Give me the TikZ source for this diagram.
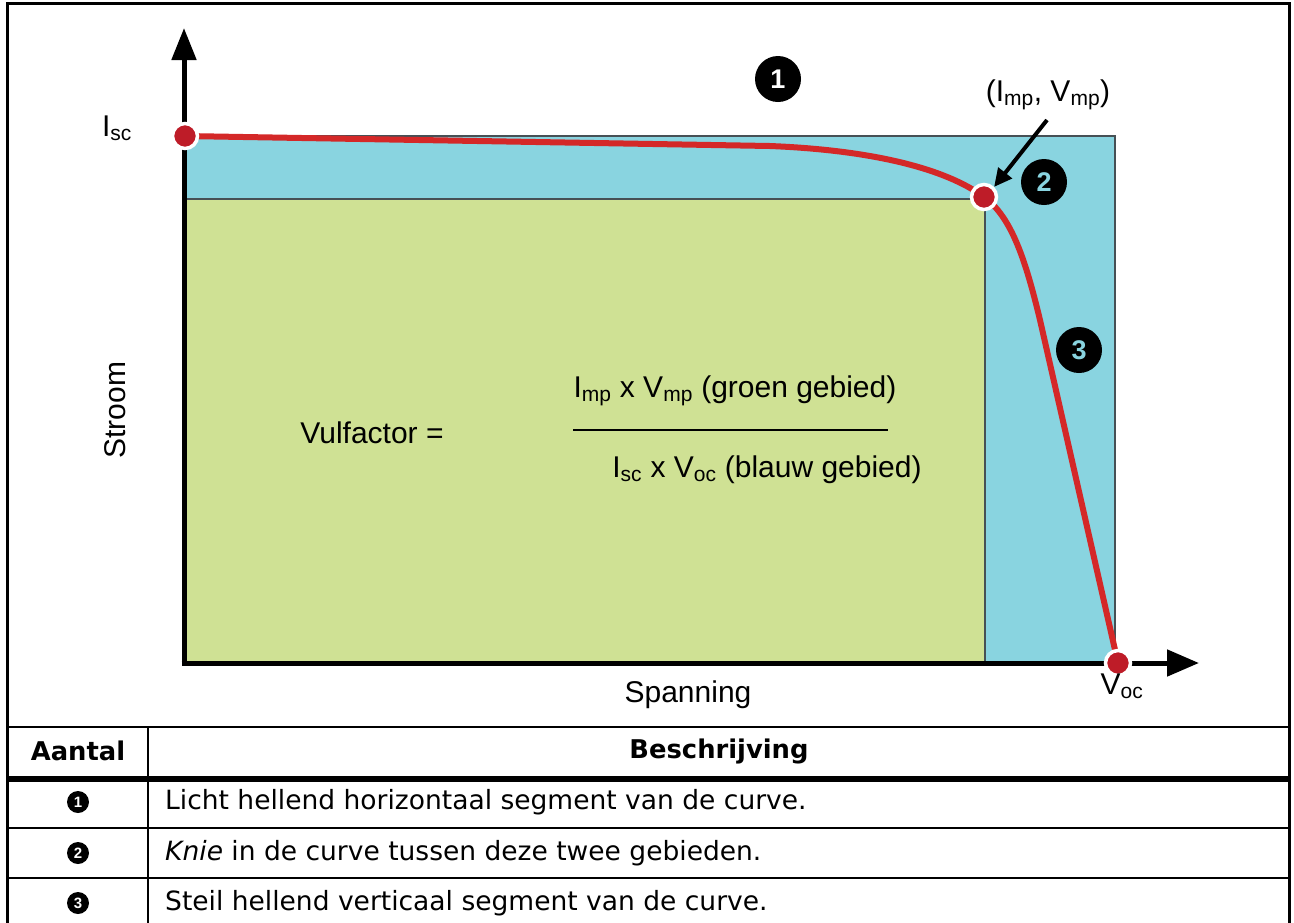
\documentclass[tikz,border=0pt]{standalone}
\usepackage{fontspec}
\setmainfont{Liberation Sans}
\newfontfamily\tabfont{DejaVu Sans}
\usetikzlibrary{arrows.meta}
\definecolor{cblue}{RGB}{137,212,224}
\definecolor{cgreen}{RGB}{207,225,148}
\definecolor{cred}{RGB}{212,40,40}
\definecolor{cdot}{RGB}{190,28,40}
\definecolor{cedge}{RGB}{70,80,85}
\begin{document}
\begin{tikzpicture}[x=1pt,y=-1pt,
  lbl/.style={inner sep=0pt, font=\fontsize{30}{34}\selectfont},
  tabtxt/.style={inner sep=0pt, font=\tabfont\fontsize{26.5}{30}\selectfont},
  tabhead/.style={inner sep=0pt, font=\tabfont\bfseries\fontsize{25.8}{30}\selectfont},
  bigmark/.style={circle, fill=black, minimum size=46pt, inner sep=0pt, font=\bfseries\fontsize{27}{28}\selectfont},
  smallmark/.style={circle, fill=black, minimum size=22pt, inner sep=0pt, text=white, font=\bfseries\fontsize{15}{15}\selectfont},
  ptdot/.style={circle, fill=cdot, draw=white, line width=3.5pt, minimum size=25pt, inner sep=0pt},
  tline/.style={line width=2pt, black}]
\useasboundingbox (0,0) rectangle (1294,922);
% areas
\fill[cblue] (184,136) rectangle (1115,663);
\draw[cedge, line width=1.2pt] (184,136) -- (1115,136) -- (1115,663);
\fill[cgreen] (184,199) rectangle (985,663);
\draw[cedge, line width=1.2pt] (184,199) -- (985,199) -- (985,663);
% axes
\coordinate (o) at (184,663);
\coordinate (ytip) at (184,28);
\coordinate (xtip) at (1199,663);
\draw[line width=5pt, -{Triangle[length=32pt,width=24pt]}] (184,665.5) -- (ytip);
\draw[line width=5pt, -{Triangle[length=32pt,width=26pt]}] (181.5,663) -- (xtip);
% curve
\coordinate (pIsc) at (185,136);
\coordinate (pImp) at (984,197);
\coordinate (pVoc) at (1118,663);
\draw[cred, line width=6pt] (pIsc) -- (770,146) .. controls (870,150) and (945,168) .. (pImp)
   .. controls (1012,217) and (1026,262) .. (1040,320) -- (pVoc);
\node[ptdot] (dIsc) at (pIsc) {};
\node[ptdot] (dImp) at (pImp) {};
\node[ptdot] (dVoc) at (pVoc) {};
% markers
\node[bigmark, text=white] (m1) at (778,79) {1};
\node[bigmark, text=cblue] (m2) at (1044,182) {2};
\node[bigmark, text=cblue] (m3) at (1079,350) {3};
% labels
\node[lbl] (lmp) at (1048,95) {(I\textsubscript{mp}, V\textsubscript{mp})};
\coordinate (arS) at (1047,120);
\draw[line width=4pt, -{Triangle[length=18pt,width=17pt]}] (arS) -- (dImp.north east);
\node[lbl] (lisc) at (117,128) {I\textsubscript{sc}};
\node[lbl] (lvoc) at (1122,686) {V\textsubscript{oc}};
\node[lbl, rotate=90] (lstroom) at (115,410) {Stroom};
\node[lbl] (lspan) at (688,695) {Spanning};
\node[lbl] (lvul) at (372,433) {Vulfactor =};
\node[lbl] (lnum) at (735,391) {I\textsubscript{mp} x V\textsubscript{mp} (groen gebied)};
\node[lbl] (lden) at (767,470) {I\textsubscript{sc} x V\textsubscript{oc} (blauw gebied)};
\coordinate (fl) at (573,430);
\coordinate (fr) at (888,430);
\draw[line width=2.5pt] (fl) -- (fr);
% table / frame
\draw[line width=3pt] (7,3) rectangle (1289,930);
\draw[tline] (7,727) -- (1289,727);
\draw[line width=6pt] (7,778.5) -- (1289,778.5);
\draw[tline] (7,828) -- (1289,828);
\draw[tline] (7,878) -- (1289,878);
\draw[tline] (148,727) -- (148,930);
\node[tabhead] (hA) at (78,751) {Aantal};
\node[tabhead] (hB) at (719,751) {Beschrijving};
\node[smallmark] (s1) at (78,802) {1};
\node[smallmark] (s2) at (78,853) {2};
\node[smallmark] (s3) at (78,903) {3};
\node[tabtxt, anchor=west] (r1) at (165,802) {Licht hellend horizontaal segment van de curve.};
\node[tabtxt, anchor=west] (r2) at (165,853) {\textit{Knie} in de curve tussen deze twee gebieden.};
\node[tabtxt, anchor=west] (r3) at (165,903) {Steil hellend verticaal segment van de curve.};
\end{tikzpicture}
\end{document}
